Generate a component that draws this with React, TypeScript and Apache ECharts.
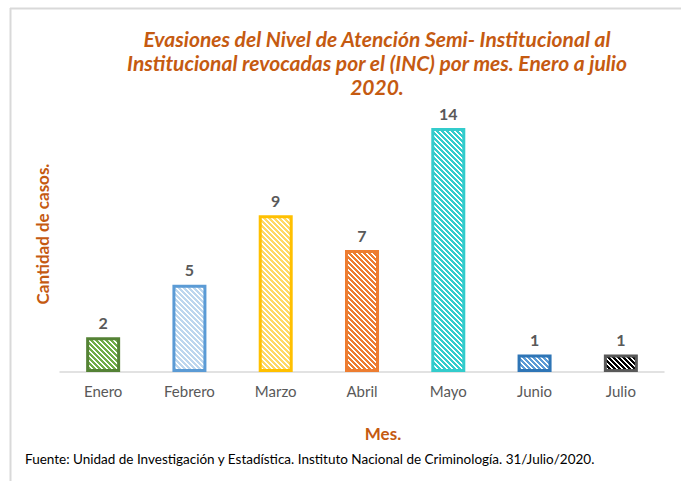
import React, { useEffect, useRef } from "react";
import * as echarts from "echarts";

const months = ["Enero", "Febrero", "Marzo", "Abril", "Mayo", "Junio", "Julio"];
const cases = [2, 5, 9, 7, 14, 1, 1];
const borderColors = ["#548235", "#5B9BD5", "#FFC000", "#ED7D31", "#33CCCC", "#2E75B6", "#595959"];
const stripeColors = ["#70AD47", "#BDD7EE", "#FFD966", "#ED7D31", "#33CCCC", "#5B9BD5", "#000000"];

const titleLines = [
  "Evasiones del Nivel de Atención Semi- Institucional al",
  "Institucional revocadas por el (INC) por mes. Enero a julio",
  "2020.",
];
const yName = "Cantidad de casos.";
const xName = "Mes.";
const footer = "Fuente: Unidad de Investigación y Estadística. Instituto Nacional de Criminología. 31/Julio/2020.";

function makePattern(color: string): any {
  const size = 10;
  const c = document.createElement("canvas");
  c.width = size;
  c.height = size;
  const ctx = c.getContext("2d")!;
  ctx.fillStyle = "#ffffff";
  ctx.fillRect(0, 0, size, size);
  ctx.fillStyle = color;
  for (let y = 0; y < size; y++) {
    for (let x = 0; x < size; x++) {
      if ((((x - y) % 5) + 5) % 5 < 3) ctx.fillRect(x, y, 1, 1);
    }
  }
  return { image: c.toDataURL(), repeat: "repeat", imageWidth: size, imageHeight: size };
}

export default function App() {
  const ref = useRef<HTMLDivElement>(null);
  useEffect(() => {
    if (!ref.current) return;
    const chart = echarts.init(ref.current, null, { renderer: "svg" });
    const font = "Lato, 'Liberation Sans', sans-serif";
    chart.setOption({
      animation: false,
      backgroundColor: "#ffffff",
      grid: { left: 60, right: 17, top: 128, bottom: 109 },
      xAxis: {
        type: "category",
        data: months,
        axisLine: { lineStyle: { color: "#D9D9D9", width: 1.5 } },
        axisTick: { show: false },
        axisLabel: { color: "#595959", fontSize: 15, fontFamily: font, margin: 11 },
      },
      yAxis: {
        type: "value",
        min: 0,
        max: 14,
        show: false,
        splitLine: { show: false },
      },
      series: [
        {
          type: "bar",
          barWidth: 34,
          data: cases.map((v, i) => ({
            value: v,
            itemStyle: {
              color: makePattern(stripeColors[i]),
              borderColor: borderColors[i],
              borderWidth: 3,
            },
          })),
          label: {
            show: true,
            position: "top",
            distance: 7,
            color: "#595959",
            fontSize: 16,
            fontWeight: "bold",
            fontFamily: font,
          },
        },
      ],
      graphic: [
        { type: "line", shape: { x1: 10.5, y1: 8, x2: 10.5, y2: 481 }, style: { stroke: "#D9D9D9", lineWidth: 2 } },
        { type: "line", shape: { x1: 10, y1: 8.5, x2: 681, y2: 8.5 }, style: { stroke: "#D9D9D9", lineWidth: 2 } },
        ...titleLines.map((t, i) => ({
          type: "text",
          x: 377,
          y: 38 + i * 24,
          style: {
            text: t,
            fill: "#C55A11",
            font: `italic bold 21px ${font}`,
            textAlign: "center",
            textVerticalAlign: "middle",
          },
        })),
        {
          type: "text",
          x: 42,
          y: 234,
          rotation: Math.PI / 2,
          style: {
            text: yName,
            fill: "#C55A11",
            font: `bold 17px ${font}`,
            textAlign: "center",
            textVerticalAlign: "middle",
          },
        },
        {
          type: "text",
          x: 383,
          y: 433,
          style: {
            text: xName,
            fill: "#C55A11",
            font: `bold 17px ${font}`,
            textAlign: "center",
            textVerticalAlign: "middle",
          },
        },
        {
          type: "text",
          x: 25,
          y: 459,
          style: {
            text: footer,
            fill: "#000000",
            font: `13.5px ${font}`,
            textAlign: "left",
            textVerticalAlign: "middle",
          },
        },
      ],
    });
    return () => chart.dispose();
  }, []);
  return <div ref={ref} style={{ position: "fixed", left: 0, top: 0, width: 681, height: 481 }} />;
}
